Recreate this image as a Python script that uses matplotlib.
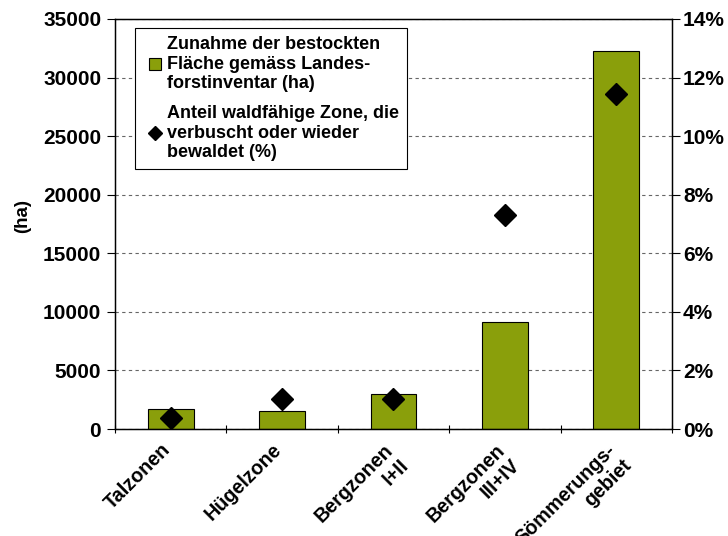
import matplotlib
matplotlib.use("Agg")
import matplotlib.pyplot as plt
import matplotlib.transforms as mtransforms
import numpy as np
from matplotlib.lines import Line2D
from matplotlib.ticker import FuncFormatter, MultipleLocator

plt.rcParams['font.family'] = ['Liberation Sans', 'DejaVu Sans']
plt.rcParams['font.weight'] = 'bold'

categories = ["Talzonen", "Hügelzone", "Bergzonen\nI+II", "Bergzonen\nIII+IV", "Sömmerungs-\ngebiet"]
area_ha = [1700, 1500, 3000, 9100, 32300]
share_pct = [0.38, 1.02, 1.02, 7.3, 11.45]

bar_label = "Zunahme der bestockten\nFläche gemäss Landes-\nforstinventar (ha)"
dot_label = "Anteil waldfähige Zone, die\nverbuscht oder wieder\nbewaldet (%)"

bar_color = "#8a9f0b"

fig = plt.figure(figsize=(7.28, 5.36), dpi=100)
ax = fig.add_axes([0.158, 0.1996, 0.765, 0.765])
x = np.arange(len(categories))

ax.bar(x, area_ha, width=0.41, color=bar_color, edgecolor="black", linewidth=0.8, zorder=2)
ax.set_xlim(-0.5, len(categories) - 0.5)
ax.set_ylim(0, 35000)
ax.yaxis.set_major_locator(MultipleLocator(5000))
ax.grid(axis="y", linestyle=(0, (3, 3)), color="#666666", linewidth=0.8, zorder=0)
ax.set_axisbelow(True)
ax.set_ylabel("(ha)", fontsize=13.5, fontweight="bold")
ax.yaxis.set_label_coords(-0.15, 0.52)

ax.set_xticks(x)
ax.set_xticklabels(categories, rotation=45, ha="right", rotation_mode="anchor",
                   multialignment="right", fontsize=14.2, fontweight="bold")
ax.tick_params(axis="x", which="major", length=0, pad=8)
# nudge rotated labels so their ends sit under the category centres
shift = mtransforms.ScaledTranslation(-0.10, 0, fig.dpi_scale_trans)
for lbl in ax.get_xticklabels():
    lbl.set_transform(lbl.get_transform() + shift)
ax.set_xticks(np.arange(-0.5, len(categories), 1.0), minor=True)
ax.tick_params(axis="x", which="minor", length=6, direction="inout", width=0.8)
ax.tick_params(axis="y", length=6, width=0.8, labelsize=15, pad=4)
for s in ax.spines.values():
    s.set_linewidth(1.0)

ax2 = ax.twinx()
ax2.plot(x, share_pct, linestyle="none", marker="D", markersize=11, color="black", zorder=3)
ax2.set_ylim(0, 14)
ax2.yaxis.set_major_locator(MultipleLocator(2))
ax2.yaxis.set_major_formatter(FuncFormatter(lambda v, p: f"{v:.0f}%"))
ax2.tick_params(axis="y", length=6, width=0.8, labelsize=15, pad=2)

handles = [Line2D([], [], linestyle="none", marker="s", markersize=9,
                  markerfacecolor=bar_color, markeredgecolor="black", markeredgewidth=0.8),
           Line2D([], [], linestyle="none", marker="D", markersize=7, color="black")]
leg = ax2.legend(handles, [bar_label, dot_label], loc="upper left",
                 bbox_to_anchor=(0.036, 0.978), borderaxespad=0, fancybox=False,
                 edgecolor="black", framealpha=1, prop={"size": 13, "weight": "bold"},
                 handlelength=1.3, handletextpad=0.0,
                 labelspacing=0.7, borderpad=0.45)
leg.get_frame().set_linewidth(0.8)

fig.savefig("out.png", dpi=100)
